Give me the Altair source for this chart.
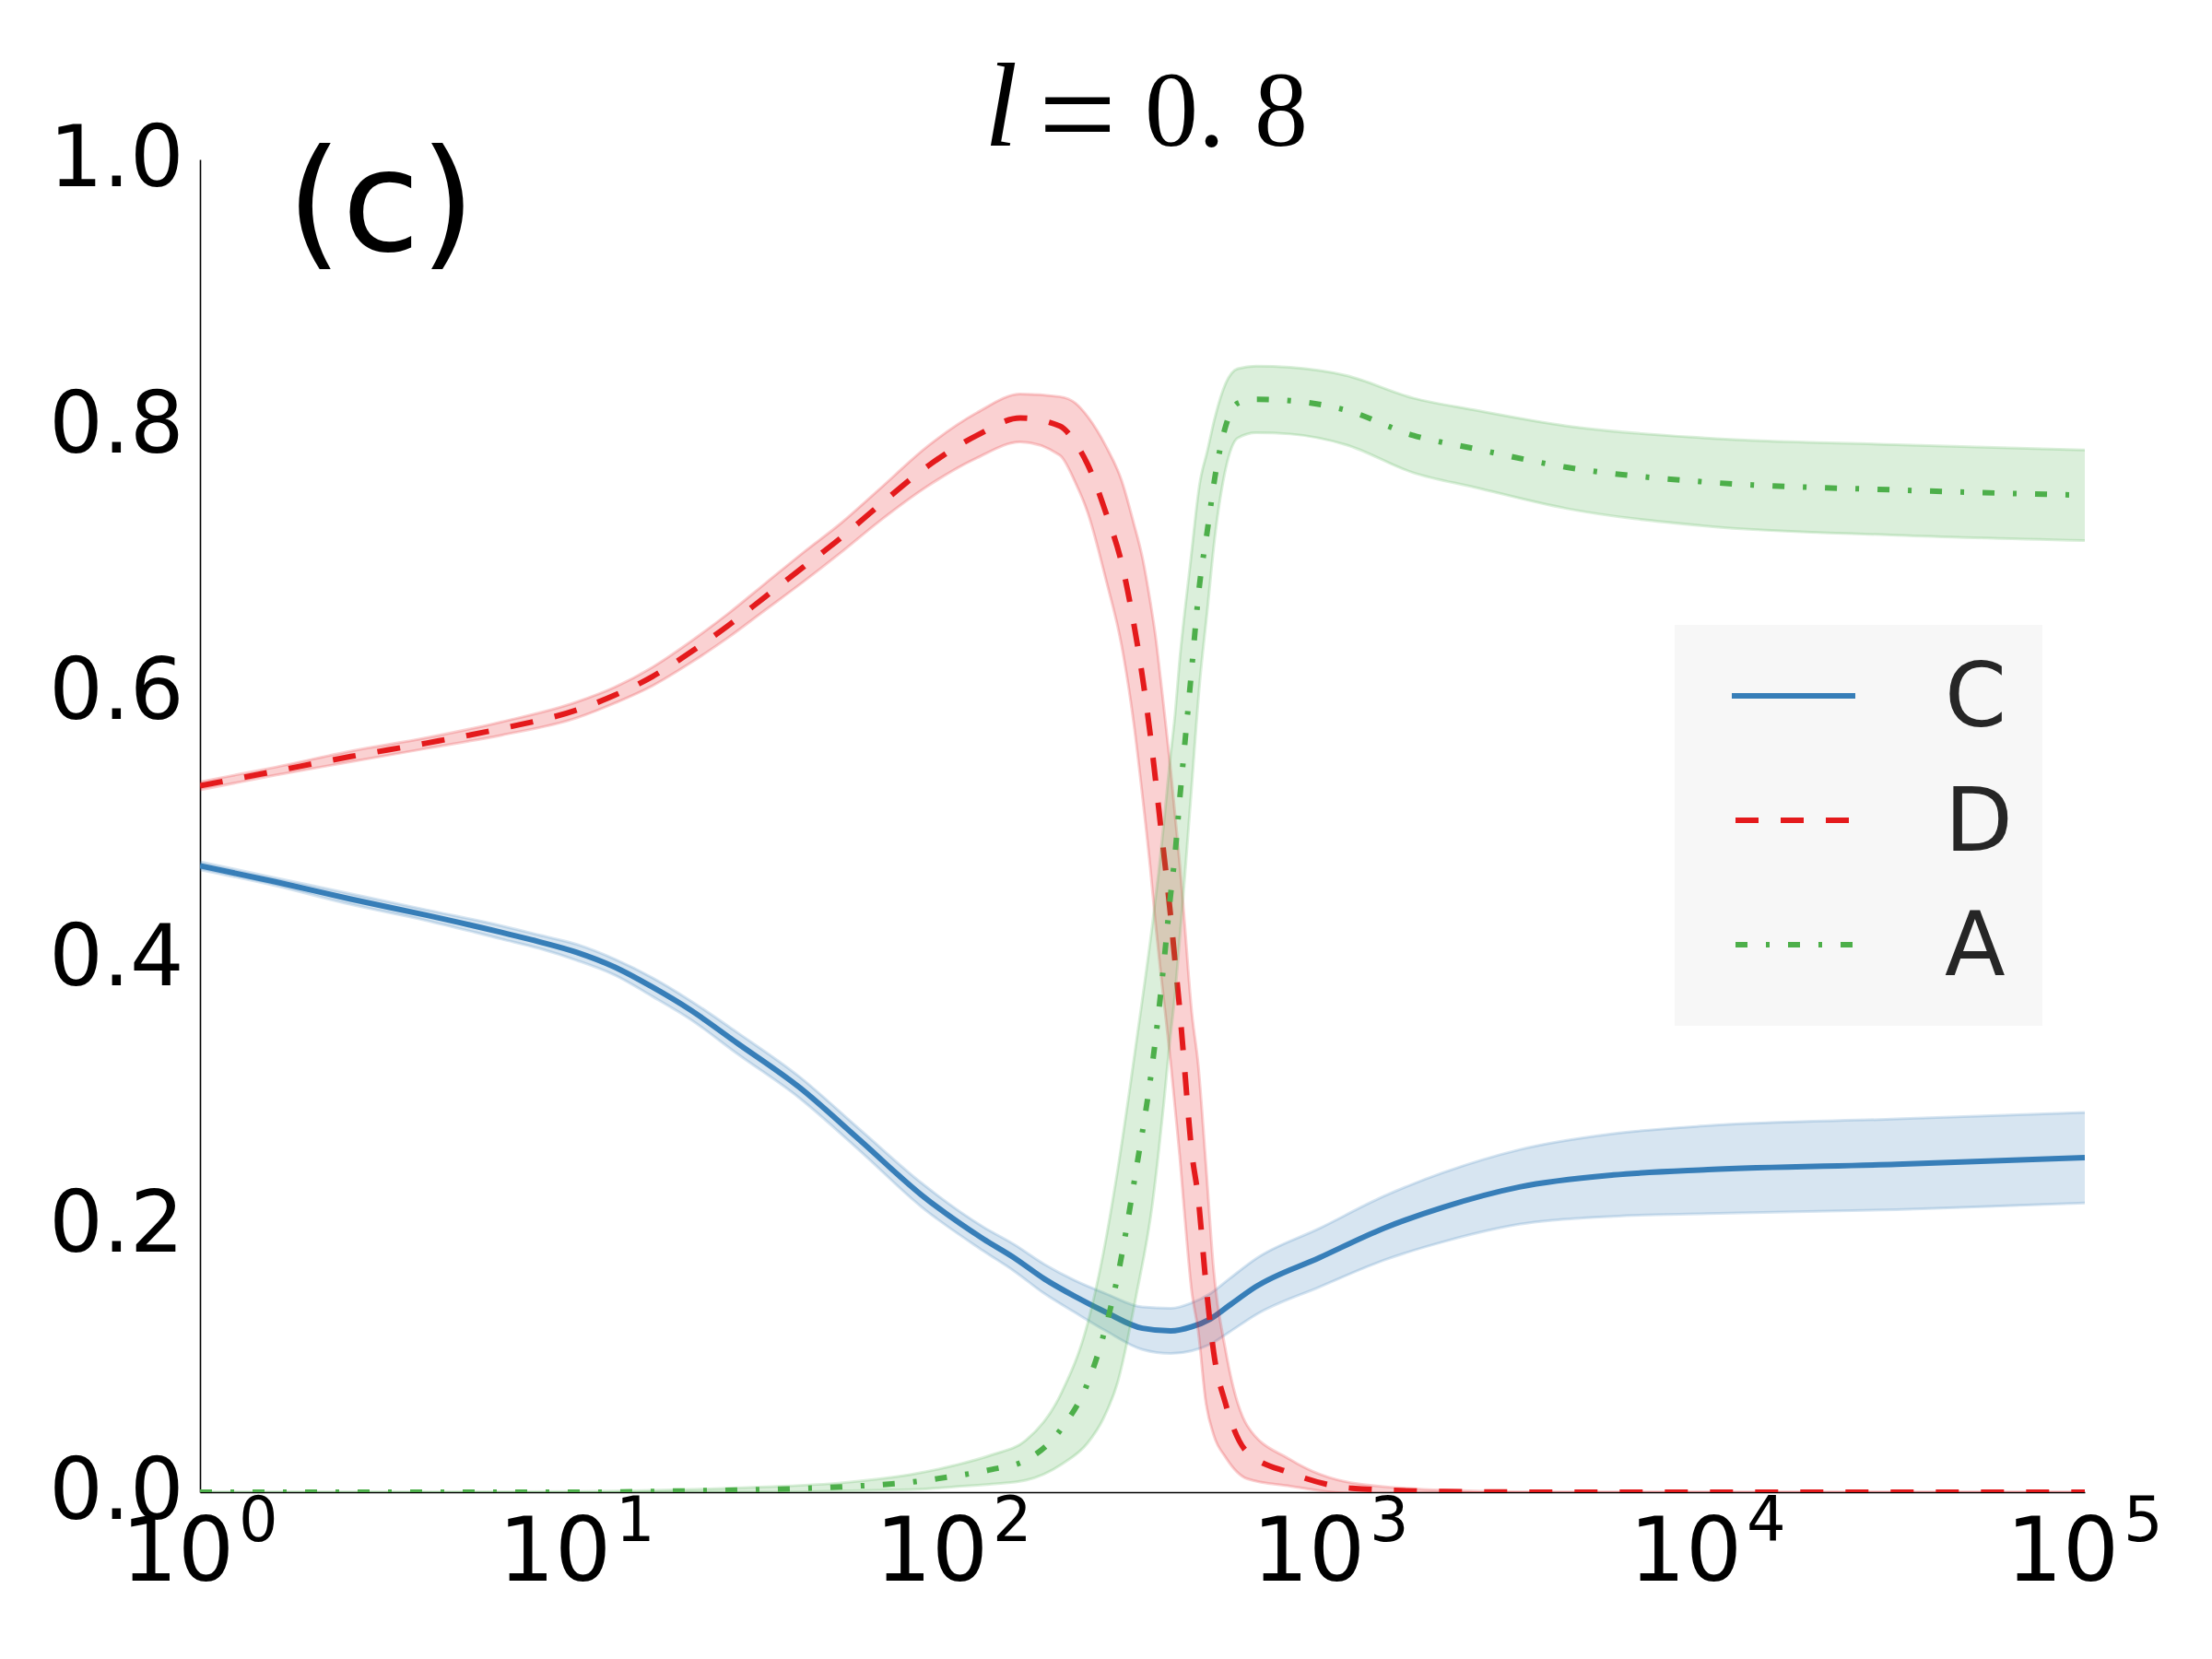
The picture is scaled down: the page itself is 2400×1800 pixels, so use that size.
import altair as alt
import pandas as pd

# ---- data: time exponents (log10 t), mean fraction and spread per strategy ----
c_logt = [0.0, 0.2, 0.4, 0.6, 0.8, 0.9, 1.0, 1.1, 1.2, 1.3, 1.425, 1.589, 1.751, 1.914, 2.078,
          2.159, 2.24, 2.32, 2.403, 2.5, 2.575, 2.63, 2.68, 2.73, 2.8, 2.97, 3.14, 3.3, 3.5,
          3.75, 4.0, 4.5, 5.0]
c_mean = [0.470, 0.458, 0.445, 0.433, 0.420, 0.413, 0.405, 0.394, 0.379, 0.362, 0.337, 0.304,
          0.264, 0.223, 0.190, 0.176, 0.160, 0.147, 0.135, 0.123, 0.121, 0.124, 0.130, 0.140,
          0.154, 0.176, 0.198, 0.214, 0.229, 0.238, 0.242, 0.246, 0.251]
c_std = [0.003, 0.003, 0.004, 0.004, 0.005, 0.005, 0.006, 0.006, 0.007, 0.007, 0.008, 0.008,
         0.008, 0.009, 0.009, 0.010, 0.011, 0.012, 0.014, 0.016, 0.017, 0.018, 0.019, 0.020,
         0.021, 0.022, 0.024, 0.026, 0.028, 0.031, 0.033, 0.034, 0.034]

d_logt = [0.0, 0.2, 0.4, 0.6, 0.8, 1.0, 1.1, 1.2, 1.3, 1.4, 1.5, 1.6, 1.7, 1.8, 1.931, 2.061,
          2.176, 2.281, 2.323, 2.355, 2.403, 2.445, 2.477, 2.501, 2.521, 2.535, 2.548, 2.562,
          2.575, 2.587, 2.599, 2.609, 2.631, 2.648, 2.668, 2.689, 2.721, 2.778, 2.892, 3.056,
          3.3, 3.6, 4.0, 4.5, 5.0]
d_mean = [0.530, 0.541, 0.552, 0.562, 0.573, 0.587, 0.598, 0.612, 0.630, 0.650, 0.672, 0.694,
          0.716, 0.740, 0.770, 0.793, 0.806, 0.800, 0.787, 0.771, 0.735, 0.697, 0.652, 0.610,
          0.568, 0.534, 0.501, 0.466, 0.432, 0.397, 0.362, 0.328, 0.255, 0.221, 0.158, 0.105,
          0.066, 0.030, 0.0145, 0.003, 0.0005, 0.0, 0.0, 0.0, 0.0]
d_std = [0.003, 0.003, 0.004, 0.004, 0.005, 0.006, 0.006, 0.007, 0.008, 0.009, 0.010, 0.011,
         0.011, 0.012, 0.015, 0.017, 0.018, 0.022, 0.030, 0.036, 0.050, 0.062, 0.075, 0.090,
         0.100, 0.108, 0.110, 0.110, 0.110, 0.110, 0.110, 0.110, 0.105, 0.100, 0.090, 0.062,
         0.040, 0.020, 0.010, 0.004, 0.001, 0.0, 0.0, 0.0, 0.0]

a_logt = [0.0, 0.5, 1.0, 1.3, 1.5, 1.7, 1.9, 2.0, 2.1, 2.191, 2.286, 2.355, 2.396, 2.435, 2.484,
          2.526, 2.543, 2.558, 2.572, 2.587, 2.599, 2.612, 2.628, 2.652, 2.672, 2.692, 2.721,
          2.753, 2.802, 2.892, 3.039, 3.218, 3.381, 3.626, 3.993, 4.5, 5.0]
a_mean = [0.0, 0.0, 0.0, 0.001, 0.002, 0.004, 0.008, 0.012, 0.017, 0.024, 0.048, 0.082, 0.117,
          0.163, 0.243, 0.320, 0.360, 0.400, 0.441, 0.480, 0.520, 0.560, 0.609, 0.682, 0.721,
          0.761, 0.800, 0.817, 0.820, 0.819, 0.812, 0.793, 0.783, 0.769, 0.758, 0.752, 0.748]
a_std = [0.0, 0.0, 0.0005, 0.001, 0.002, 0.003, 0.006, 0.008, 0.011, 0.015, 0.027, 0.045,
         0.062, 0.080, 0.095, 0.105, 0.105, 0.105, 0.105, 0.105, 0.105, 0.100, 0.090, 0.075,
         0.060, 0.045, 0.032, 0.026, 0.025, 0.025, 0.026, 0.028, 0.029, 0.031, 0.033, 0.034,
         0.034]

series_names = ["C", "D", "A"]
series_colors = ["#377eb8", "#e41a1c", "#4daf4a"]
series_dashes = [None, [25, 24], [13, 20, 4, 20]]
series_data = [(c_logt, c_mean, c_std), (d_logt, d_mean, d_std), (a_logt, a_mean, a_std)]

tick_exponents = ["0", "1", "2", "3", "4", "5"]
y_ticks = [0.0, 0.2, 0.4, 0.6, 0.8, 1.0]

# title "l = 0. 8": (text, x, baseline y, font size, style, align)
title_pieces = [("l", 851, -15, 130, "italic", "left"),
                ("=", 952, 1, 150, "normal", "center"),
                ("0.", 1025, -15, 116, "normal", "left"),
                ("8", 1173, -15, 116, "normal", "center")]

# ---- layout ----
W, H = 2045, 1446
FONT = "DejaVu Sans"
SERIF = "Liberation Serif"

x_scale = alt.Scale(type="log", domain=[1, 100000], nice=False)
y_scale = alt.Scale(domain=[0, 1], nice=False)

y_axis = alt.Axis(values=y_ticks, format=".1f", labelFontSize=92, labelFont=FONT,
                  labelColor="black", ticks=False, tickSize=0, grid=False, domainColor="black",
                  domainWidth=1.6, labelPadding=18, title=None, labelFlush=False,
                  labelOverlap=False, labelBound=False)
x_axis = alt.Axis(labels=False, ticks=False, tickSize=0, grid=False, domainColor="black",
                  domainWidth=1.6, title=None)

X = alt.X("t:Q", scale=x_scale, axis=x_axis)


def Y(field):
    return alt.Y(field, scale=y_scale, axis=y_axis)


layers = []
for name, color, dash, (logt, mean, std) in zip(series_names, series_colors, series_dashes,
                                                 series_data):
    df = pd.DataFrame({"logt": logt, "mean": mean, "std": std})
    df["t"] = 10 ** df["logt"]
    df["lo"] = df["mean"] - df["std"]
    df["hi"] = df["mean"] + df["std"]

    base = alt.Chart(df)
    band = base.mark_area(color=color, opacity=0.2, interpolate="monotone", clip=True).encode(
        x=X, y=Y("lo:Q"), y2="hi:Q")
    edge_lo = base.mark_line(color=color, opacity=0.2, strokeWidth=3, interpolate="monotone",
                             clip=True).encode(x=X, y=Y("lo:Q"))
    edge_hi = base.mark_line(color=color, opacity=0.2, strokeWidth=3, interpolate="monotone",
                             clip=True).encode(x=X, y=Y("hi:Q"))
    line_kw = dict(color=color, strokeWidth=6, interpolate="monotone", clip=True)
    if dash is not None:
        line_kw["strokeDash"] = dash
    mean_line = base.mark_line(**line_kw).encode(x=X, y=Y("mean:Q"))
    layers += [band, edge_lo, edge_hi, mean_line]

# x tick labels drawn as 10 with a raised exponent
xt = pd.DataFrame({"exp": tick_exponents})
xt["t"] = 10 ** xt["exp"].astype(float)
xt["base"] = "10"
tick_base = alt.Chart(xt).mark_text(font=FONT, fontSize=96, align="right",
                                    baseline="alphabetic", dx=37, color="black").encode(
    x=X, y=alt.value(H + 96), text="base:N")
tick_exp = alt.Chart(xt).mark_text(font=FONT, fontSize=67, align="left",
                                   baseline="alphabetic", dx=42, color="black").encode(
    x=X, y=alt.value(H + 53), text="exp:N")
layers += [tick_base, tick_exp]

# panel tag
tag = alt.Chart(pd.DataFrame({"s": ["(c)"]})).mark_text(
    font=FONT, fontSize=154, align="left", baseline="alphabetic", color="black").encode(
    x=alt.value(94), y=alt.value(99), text="s:N")
layers.append(tag)

# title
for txt, px, py, size, style, align in title_pieces:
    layers.append(alt.Chart(pd.DataFrame({"s": [txt]})).mark_text(
        font=SERIF, fontSize=size, fontStyle=style, align=align,
        baseline="alphabetic", color="black").encode(
        x=alt.value(px), y=alt.value(py), text="s:N"))

# legend
LX0, LX1, LY0, LY1 = 1600, 1999, 505, 940
legend_box = alt.Chart(pd.DataFrame({"k": [0]})).mark_rect(color="#f7f7f7").encode(
    x=alt.value(LX0), x2=alt.value(LX1), y=alt.value(LY0), y2=alt.value(LY1))
layers.append(legend_box)
for i, (name, color, dash) in enumerate(zip(series_names, series_colors, series_dashes)):
    ry = LY0 + 77 + i * 135
    rule_kw = dict(color=color, strokeWidth=6)
    if dash is not None:
        rule_kw["strokeDash"] = dash
    layers.append(alt.Chart(pd.DataFrame({"s": [name]})).mark_rule(**rule_kw).encode(
        x=alt.value(1662 if dash is None else 1666), x2=alt.value(1796), y=alt.value(ry)))
    layers.append(alt.Chart(pd.DataFrame({"s": [name]})).mark_text(
        font=FONT, fontSize=96, align="left", baseline="alphabetic", color="#262626").encode(
        x=alt.value(1893), y=alt.value(ry + 33), text="s:N"))

chart = alt.layer(*layers).properties(
    width=W, height=H,
    autosize=alt.AutoSizeParams(type="none"),
    padding={"left": 217, "top": 173, "right": 138, "bottom": 181},
    background="white",
).configure_view(stroke=None)

chart.save("out.html", embed_options={"renderer": "svg", "actions": False})
